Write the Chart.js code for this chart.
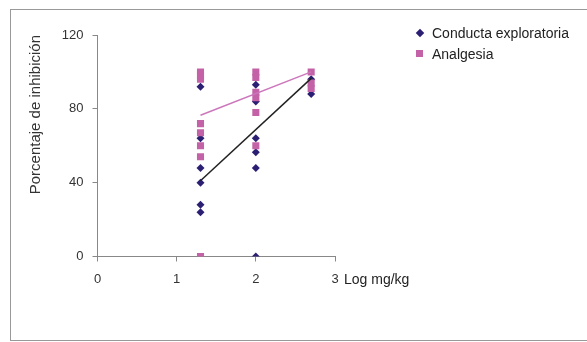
<!DOCTYPE html>
<html>
<head>
<meta charset="utf-8">
<script src="https://cdn.jsdelivr.net/npm/chart.js@4"></script>
<style>
  body { margin: 0; background: #fff; font-family: "Liberation Sans", Arial, sans-serif; }
  #wrap { position: relative; width: 587px; height: 342px; overflow: hidden; }
  #frame { position: absolute; left: 10px; top: 9px; width: 600px; height: 330px;
           border-left: 1px solid #999; border-top: 1px solid #999; border-bottom: 1px solid #999; }
  canvas { position: absolute; left: 0; top: 0; }
  .txt { position: absolute; font-size: 14px; color: #222; white-space: nowrap; line-height: 16px; }
  .mk { position: absolute; }
</style>
</head>
<body>
<div id="wrap">
  <div id="frame"></div>
  <canvas id="chart" width="587" height="342"></canvas>
  <div class="mk" style="left:417px;top:30px;width:6px;height:6px;background:#2a1f73;transform:rotate(45deg);"></div>
  <div class="txt" style="left:432px;top:25px;">Conducta exploratoria</div>
  <div class="mk" style="left:416px;top:50px;width:7px;height:7px;background:#c462a8;"></div>
  <div class="txt" style="left:432px;top:46px;">Analgesia</div>
  <div class="txt" style="left:344px;top:271px;">Log mg/kg</div>
</div>
<script>
// dosis en log mg/kg
var xConducta = [1.301, 1.301, 1.301, 1.301, 1.301, 1.301, 2, 2, 2, 2, 2, 2, 2.699, 2.699];
var yConducta = [92, 64, 48, 40, 28, 24, 93, 84, 64, 56.5, 48, 0, 96, 88];

var xAnalgesia = [1.301, 1.301, 1.301, 1.301, 1.301, 1.301, 1.301, 1.301, 2, 2, 2, 2, 2, 2, 2.699, 2.699, 2.699];
var yAnalgesia = [100, 98, 96, 72, 67, 60, 54, 0, 100, 97, 89, 86, 78, 60, 100, 94, 91];

// lineas de tendencia
var xTrend = [1.301, 2.699];
var yTrendConducta = [41, 96.5];
var yTrendAnalgesia = [76.5, 100];

var xTicks = [0, 1, 2, 3];
var yTicks = [0, 40, 80, 120];

function pts(xs, ys) {
    var out = [];
    for (var i = 0; i < xs.length; i++) out.push({ x: xs[i], y: ys[i] });
    return out;
}

var ctx = document.getElementById('chart').getContext('2d');

new Chart(ctx, {
    type: 'scatter',
    data: {
        datasets: [
            {
                label: 'Tendencia analgesia',
                type: 'line',
                data: pts(xTrend, yTrendAnalgesia),
                borderColor: '#cc77bb',
                borderWidth: 1.5,
                pointRadius: 0,
                fill: false
            },
            {
                label: 'Tendencia conducta',
                type: 'line',
                data: pts(xTrend, yTrendConducta),
                borderColor: '#222222',
                borderWidth: 1.5,
                pointRadius: 0,
                fill: false
            },
            {
                label: 'Analgesia',
                data: pts(xAnalgesia, yAnalgesia),
                pointStyle: 'rect',
                pointRadius: 5,
                backgroundColor: '#c462a8',
                borderColor: '#c462a8',
                borderWidth: 0
            },
            {
                label: 'Conducta exploratoria',
                data: pts(xConducta, yConducta),
                pointStyle: 'rectRot',
                pointRadius: 4,
                backgroundColor: '#2a1f73',
                borderColor: '#2a1f73',
                borderWidth: 0
            }
        ]
    },
    options: {
        responsive: false,
        animation: false,
        layout: { padding: { left: 20, right: 252, top: 35, bottom: 45.5 } },
        plugins: {
            legend: { display: false },
            tooltip: { enabled: false }
        },
        scales: {
            x: {
                type: 'linear',
                min: 0,
                max: 3,
                afterFit: function (s) { s.height = 40; },
                afterBuildTicks: function (s) { s.ticks = xTicks.map(function (v) { return { value: v }; }); },
                grid: { drawOnChartArea: false, drawTicks: true, tickLength: 5, color: '#888' },
                border: { color: '#888', width: 1 },
                ticks: { padding: 10, color: '#333', font: { family: '"Liberation Sans", Arial', size: 13 } }
            },
            y: {
                type: 'linear',
                min: 0,
                max: 120,
                afterFit: function (s) { s.width = 77.5; },
                afterBuildTicks: function (s) { s.ticks = yTicks.map(function (v) { return { value: v }; }); },
                grid: { drawOnChartArea: false, drawTicks: true, tickLength: 5, color: '#888' },
                border: { color: '#888', width: 1 },
                ticks: { padding: 9, color: '#333', font: { family: '"Liberation Sans", Arial', size: 13 } },
                title: {
                    display: true,
                    text: 'Porcentaje de inhibición',
                    align: 'end',
                    color: '#333',
                    padding: { top: 7, bottom: 0 },
                    font: { family: '"Liberation Sans", Arial', size: 15 }
                }
            }
        }
    }
});
</script>
</body>
</html>
